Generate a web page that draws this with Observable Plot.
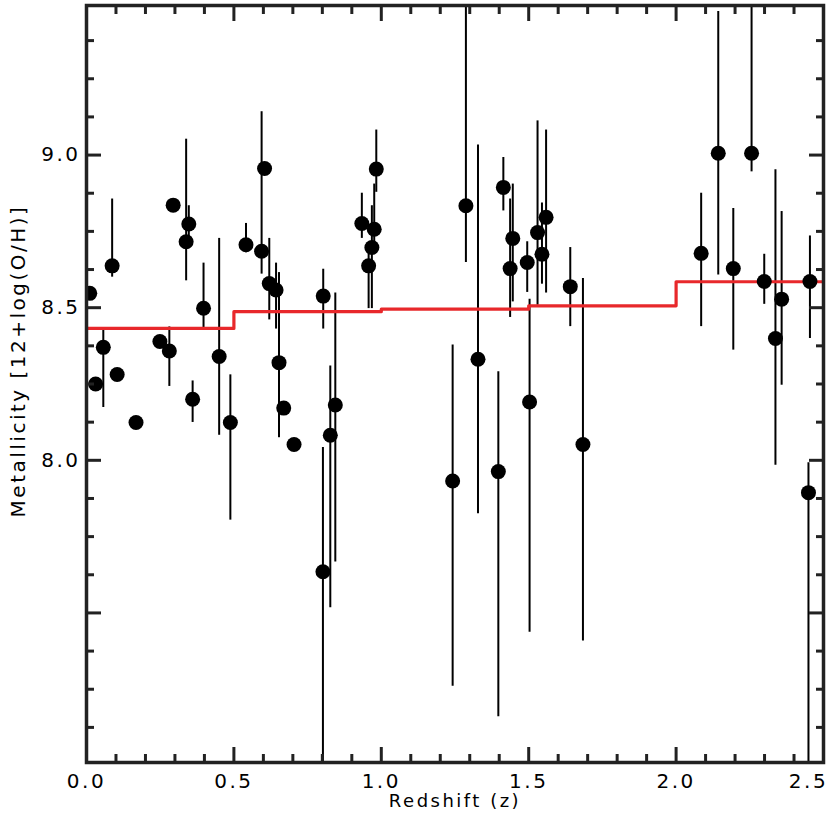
<!DOCTYPE html>
<html><head><meta charset="utf-8">
<script src="https://cdn.jsdelivr.net/npm/d3@7"></script>
<script src="https://cdn.jsdelivr.net/npm/@observablehq/plot@0.6"></script>
<style>
body{margin:0;background:#fff}
#chart text{letter-spacing:2.5px}
</style></head><body><div id="chart"></div>
<script>
// Data
const redshift = [0.011,0.031,0.057,0.087,0.104,0.168,0.249,0.281,0.294,0.338,0.347,0.360,0.397,0.450,0.488,0.541,0.594,0.604,0.620,0.643,0.653,0.669,0.704,0.803,0.802,0.827,0.844,0.934,0.957,0.968,0.976,0.983,1.242,1.287,1.328,1.397,1.414,1.437,1.446,1.495,1.503,1.530,1.545,1.559,1.641,1.684,2.085,2.143,2.194,2.256,2.299,2.337,2.358,2.454,2.449];
const metallicity = [8.547,8.250,8.370,8.637,8.281,8.124,8.389,8.358,8.836,8.716,8.774,8.200,8.498,8.340,8.124,8.706,8.685,8.956,8.579,8.558,8.320,8.171,8.052,8.538,7.635,8.082,8.181,8.776,8.637,8.697,8.757,8.954,7.932,8.834,8.331,7.963,8.894,8.628,8.727,8.648,8.191,8.746,8.675,8.796,8.569,8.052,8.678,9.006,8.628,9.006,8.586,8.399,8.528,8.586,7.894];
const errLow = [null,null,8.173,8.600,null,null,null,8.242,null,8.588,8.720,8.124,8.435,8.082,7.804,8.680,8.610,null,8.460,8.430,8.074,null,null,8.430,6.900,7.517,7.667,8.727,8.497,8.497,8.700,8.878,7.260,8.648,7.825,7.160,8.817,8.468,8.519,8.550,7.437,8.508,8.577,8.548,8.438,7.408,8.438,8.607,8.361,8.945,8.511,7.984,8.246,8.399,6.900];
const errHigh = [null,null,8.430,8.856,null,null,null,8.437,null,9.052,8.834,8.260,8.646,8.727,8.280,8.776,9.142,null,8.727,8.646,8.615,null,null,8.626,8.042,8.309,8.548,8.875,8.700,8.834,8.905,9.082,8.378,9.600,9.033,8.290,8.992,8.856,8.905,8.716,8.528,9.112,8.843,9.082,8.697,8.596,8.875,9.470,8.825,9.490,8.675,8.952,8.815,8.735,7.992];

// Binned median (red step line)
const binEdges = [0, 0.5, 1.0, 1.5, 2.0, 2.5];
const binMedian = [8.432, 8.487, 8.495, 8.506, 8.585, 8.585];

// Axis ticks
const xMajor = [0, 0.5, 1.0, 1.5, 2.0, 2.5];
const xMinor = [0.1,0.2,0.3,0.4,0.6,0.7,0.8,0.9,1.1,1.2,1.3,1.4,1.6,1.7,1.8,1.9,2.1,2.2,2.3,2.4];
const xLabels = [0, 0.5, 1.0, 1.5, 2.0];
const xLabelLast = [2.5];
const yMajor = [7.5, 8.0, 8.5, 9.0];
const yMinor = [7.125,7.25,7.375,7.625,7.75,7.875,8.125,8.25,8.375,8.625,8.75,8.875,9.125,9.25,9.375];
const yLabels = [8.0, 8.5, 9.0];

const xTitle = "Redshift (z)";
const yTitle = "Metallicity [12+log(O/H)]";

const pts = redshift.map((z, i) => ({z, m: metallicity[i], lo: errLow[i], hi: errHigh[i]}));
const bars = pts.filter(d => d.lo != null);
const steps = binEdges.map((z, i) => ({z, m: binMedian[i]}));

const ink = "#222";
const fmt = d3.format(".1f");

const tickAxes = [];
for (const a of ["bottom", "top"]) {
  tickAxes.push(Plot.axisX({ticks: xMajor, anchor: a, tickSize: -15, strokeWidth: 3, stroke: ink, fill: "none", label: null}));
  tickAxes.push(Plot.axisX({ticks: xMinor, anchor: a, tickSize: -8, strokeWidth: 3, stroke: ink, fill: "none", label: null}));
}
for (const a of ["left", "right"]) {
  tickAxes.push(Plot.axisY({ticks: yMajor, anchor: a, tickSize: -15, strokeWidth: 3, stroke: ink, fill: "none", label: null}));
  tickAxes.push(Plot.axisY({ticks: yMinor, anchor: a, tickSize: -8, strokeWidth: 3, stroke: ink, fill: "none", label: null}));
}

const chart = Plot.plot({
  width: 831, height: 831,
  marginLeft: 86, marginRight: 8, marginTop: 5, marginBottom: 69,
  style: {fontFamily: "DejaVu Sans", background: "white", color: "#000"},
  x: {domain: [0, 2.5], label: null},
  y: {domain: [7.01, 9.49], label: null},
  marks: [
    Plot.ruleX(bars, {x: "z", y1: "lo", y2: "hi", stroke: "#000", strokeWidth: 2, clip: true}),
    Plot.line(steps, {x: "z", y: "m", curve: "step-after", stroke: "#e8282b", strokeWidth: 3.2}),
    Plot.dot(pts, {x: "z", y: "m", r: 7.5, fill: "#000", stroke: "none", clip: true}),
    ...tickAxes,
    Plot.frame({stroke: ink, strokeWidth: 3.5}),
    Plot.axisX({ticks: xLabels, anchor: "bottom", tickSize: 0, tickPadding: 11, tickFormat: fmt, fontSize: 20, fill: "#000", label: null}),
    Plot.axisX({ticks: xLabelLast, anchor: "bottom", tickSize: 0, tickPadding: 11, tickFormat: fmt, fontSize: 20, fill: "#000", dx: -15, label: null}),
    Plot.axisY({ticks: yLabels, anchor: "left", tickSize: 0, tickPadding: 6, tickFormat: fmt, fontSize: 20, fill: "#000", label: null}),
    Plot.text([xTitle], {text: d => d, frameAnchor: "bottom", dy: 44, fontSize: 18, fill: "#000"}),
    Plot.text([yTitle], {text: d => d, frameAnchor: "left", textAnchor: "middle", dx: -68, dy: -23, rotate: -90, fontSize: 20, fill: "#000"})
  ]
});
document.getElementById("chart").append(chart);
</script></body></html>
